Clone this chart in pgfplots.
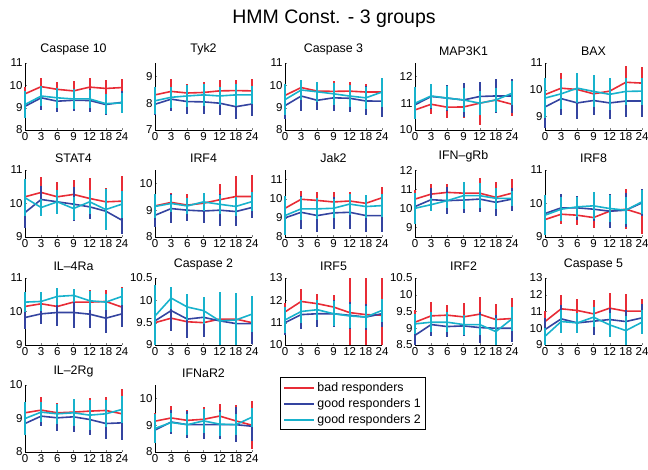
\documentclass[border=0pt]{standalone}
\usepackage{fontspec}
\setmainfont{Liberation Sans}
\usepackage{pgfplots}
\pgfplotsset{compat=1.18}
\definecolor{cR}{RGB}{232,44,54}
\definecolor{cB}{RGB}{52,68,160}
\definecolor{cC}{RGB}{24,178,204}
\pgfplotsset{
  sub/.style={width=97pt,height=67pt,scale only axis,
    xmin=0,xmax=6,
    axis x line*=bottom, axis y line*=left,
    xtick={0,...,6}, xticklabels={0,3,6,9,12,18,24},
    tick align=inside, major tick length=2pt,
    clip=false,
    axis line style={line width=0.8pt},
    ticklabel style={font=\fontsize{11.5}{12}\selectfont},
    title style={font=\fontsize{12.4}{13}\selectfont, yshift=-2pt},
    /pgf/number format/assume math mode=true,
    xticklabel style={yshift=1pt},
    yticklabel style={xshift=1pt},
  },
  eb/.style={line width=1.6pt, mark=none, error bars/y dir=both, error bars/y explicit, error bars/error mark=none, error bars/error bar style={line width=2pt}},
  R/.style={cR, eb},
  B/.style={cB, eb},
  C/.style={cC, eb},
  leg/.style={legend image code/.code={\draw[##1] (0pt,0pt) -- (30pt,0pt);}},
}
\begin{document}
\begin{tikzpicture}
\useasboundingbox (0,0) rectangle (648pt,470pt);
\node at (334pt,451pt) {\fontsize{19.5}{22}\selectfont HMM Const. - 3 groups};

% Row 1
\begin{axis}[sub, at={(25pt,340pt)}, title={Caspase 10}, ymin=8, ymax=11, ytick={8,9,10,11}]
\addplot[R] coordinates {(0,9.62)+-(0,.3) (1,9.94)+-(0,.4) (2,9.82)+-(0,.35) (3,9.75)+-(0,.45) (4,9.92)+-(0,.4) (5,9.86)+-(0,.38) (6,9.9)+-(0,.4)};
\addplot[B] coordinates {(0,9.06)+-(0,.5) (1,9.44)+-(0,.55) (2,9.29)+-(0,.5) (3,9.33)+-(0,.5) (4,9.32)+-(0,.5) (5,9.14)+-(0,.45) (6,9.24)+-(0,.5)};
\addplot[C] coordinates {(0,9.14)+-(0,.6) (1,9.52)+-(0,.45) (2,9.44)+-(0,.45) (3,9.39)+-(0,.45) (4,9.39)+-(0,.4) (5,9.18)+-(0,.45) (6,9.21)+-(0,.45)};
\end{axis}
\begin{axis}[sub, at={(155pt,340pt)}, title={Tyk2}, ymin=7, ymax=9.5, ytick={7,8,9}]
\addplot[R] coordinates {(0,8.31)+-(0,.3) (1,8.44)+-(0,.45) (2,8.38)+-(0,.35) (3,8.40)+-(0,.4) (4,8.46)+-(0,.4) (5,8.47)+-(0,.4) (6,8.46)+-(0,.45)};
\addplot[B] coordinates {(0,7.96)+-(0,.4) (1,8.15)+-(0,.45) (2,8.06)+-(0,.45) (3,8.05)+-(0,.45) (4,8.00)+-(0,.45) (5,7.87)+-(0,.45) (6,7.97)+-(0,.45)};
\addplot[C] coordinates {(0,8.09)+-(0,.5) (1,8.22)+-(0,.4) (2,8.27)+-(0,.4) (3,8.31)+-(0,.4) (4,8.27)+-(0,.35) (5,8.31)+-(0,.4) (6,8.31)+-(0,.35)};
\end{axis}
\begin{axis}[sub, at={(285pt,340pt)}, title={Caspase 3}, ymin=8, ymax=11, ytick={8,9,10,11}]
\addplot[R] coordinates {(0,9.55)+-(0,.3) (1,9.90)+-(0,.35) (2,9.74)+-(0,.35) (3,9.73)+-(0,.45) (4,9.74)+-(0,.4) (5,9.70)+-(0,.35) (6,9.70)+-(0,.35)};
\addplot[B] coordinates {(0,9.09)+-(0,.6) (1,9.52)+-(0,.65) (2,9.33)+-(0,.45) (3,9.44)+-(0,.6) (4,9.42)+-(0,.6) (5,9.30)+-(0,.65) (6,9.29)+-(0,.7)};
\addplot[C] coordinates {(0,9.36)+-(0,.7) (1,9.79)+-(0,.45) (2,9.71)+-(0,.45) (3,9.62)+-(0,.5) (4,9.52)+-(0,.5) (5,9.44)+-(0,.5) (6,9.70)+-(0,.65)};
\end{axis}
\begin{axis}[sub, at={(415pt,340pt)}, title={MAP3K1}, ymin=10, ymax=12.5, ytick={10,11,12}]
\addplot[R] coordinates {(0,10.75)+-(0,.35) (1,10.96)+-(0,.35) (2,10.85)+-(0,.4) (3,10.86)+-(0,.4) (4,11.00)+-(0,.8) (5,11.12)+-(0,.45) (6,10.96)+-(0,.45)};
\addplot[B] coordinates {(0,10.94)+-(0,.5) (1,11.25)+-(0,.45) (2,11.19)+-(0,.5) (3,11.12)+-(0,.65) (4,11.25)+-(0,.55) (5,11.27)+-(0,.65) (6,11.27)+-(0,.65)};
\addplot[C] coordinates {(0,11.00)+-(0,.6) (1,11.27)+-(0,.45) (2,11.19)+-(0,.45) (3,11.12)+-(0,.45) (4,11.00)+-(0,.45) (5,11.12)+-(0,.45) (6,11.37)+-(0,.45)};
\end{axis}
\begin{axis}[sub, at={(545pt,340pt)}, title={BAX}, ymin=8.5, ymax=11, ytick={9,10,11}]
\addplot[R] coordinates {(0,9.82)+-(0,.4) (1,10.06)+-(0,.55) (2,10.01)+-(0,.5) (3,9.85)+-(0,.5) (4,9.95)+-(0,.5) (5,10.28)+-(0,.6) (6,10.25)+-(0,.6)};
\addplot[B] coordinates {(0,9.36)+-(0,.8) (1,9.67)+-(0,.6) (2,9.51)+-(0,.6) (3,9.60)+-(0,.55) (4,9.51)+-(0,.6) (5,9.58)+-(0,.6) (6,9.58)+-(0,.6)};
\addplot[C] coordinates {(0,9.69)+-(0,.75) (1,9.85)+-(0,.55) (2,10.06)+-(0,.55) (3,9.94)+-(0,.6) (4,9.83)+-(0,.6) (5,9.94)+-(0,.5) (6,9.95)+-(0,.5)};
\end{axis}

% Row 2
\begin{axis}[sub, at={(25pt,233pt)}, title={STAT4}, ymin=9, ymax=11, ytick={9,10,11}]
\addplot[R] coordinates {(0,10.20)+-(0,.4) (1,10.33)+-(0,.45) (2,10.20)+-(0,.45) (3,10.27)+-(0,.42) (4,10.15)+-(0,.6) (5,10.05)+-(0,.4) (6,10.07)+-(0,.75)};
\addplot[B] coordinates {(0,9.73)+-(0,.45) (1,10.12)+-(0,.4) (2,10.05)+-(0,.35) (3,9.98)+-(0,.5) (4,9.90)+-(0,.35) (5,9.77)+-(0,.4) (6,9.50)+-(0,.4)};
\addplot[C] coordinates {(0,10.17)+-(0,.55) (1,9.88)+-(0,.25) (2,10.05)+-(0,.35) (3,9.85)+-(0,.35) (4,10.05)+-(0,.35) (5,9.82)+-(0,.6) (6,9.98)+-(0,.4)};
\end{axis}
\begin{axis}[sub, at={(155pt,233pt)}, title={IRF4}, ymin=8, ymax=10.5, ytick={8,9,10}]
\addplot[R] coordinates {(0,9.16)+-(0,.3) (1,9.29)+-(0,.35) (2,9.19)+-(0,.4) (3,9.26)+-(0,.3) (4,9.39)+-(0,.6) (5,9.51)+-(0,.75) (6,9.51)+-(0,.8)};
\addplot[B] coordinates {(0,8.81)+-(0,.45) (1,9.06)+-(0,.55) (2,9.00)+-(0,.4) (3,8.97)+-(0,.45) (4,9.00)+-(0,.6) (5,8.95)+-(0,.55) (6,9.10)+-(0,.4)};
\addplot[C] coordinates {(0,9.14)+-(0,.45) (1,9.25)+-(0,.3) (2,9.16)+-(0,.3) (3,9.31)+-(0,.35) (4,9.22)+-(0,.35) (5,9.14)+-(0,.35) (6,9.32)+-(0,.35)};
\end{axis}
\begin{axis}[sub, at={(285pt,233pt)}, title={Jak2}, ymin=8, ymax=11.5, ytick={8,9,10,11}]
\addplot[R] coordinates {(0,9.50)+-(0,.4) (1,9.97)+-(0,.45) (2,9.91)+-(0,.45) (3,9.83)+-(0,.5) (4,9.88)+-(0,.45) (5,9.76)+-(0,.45) (6,10.05)+-(0,.55)};
\addplot[B] coordinates {(0,9.00)+-(0,.8) (1,9.29)+-(0,.85) (2,9.12)+-(0,.85) (3,9.26)+-(0,.85) (4,9.29)+-(0,.85) (5,9.12)+-(0,.85) (6,9.12)+-(0,.85)};
\addplot[C] coordinates {(0,9.12)+-(0,1.0) (1,9.47)+-(0,.6) (2,9.47)+-(0,.55) (3,9.50)+-(0,.5) (4,9.72)+-(0,.55) (5,9.59)+-(0,.6) (6,9.64)+-(0,.6)};
\end{axis}
\begin{axis}[sub, at={(415pt,233pt)}, title={IFN\textendash gRb}, ymin=8.5, ymax=12, ytick={9,10,11,12}]
\addplot[R] coordinates {(0,10.48)+-(0,.45) (1,10.74)+-(0,.55) (2,10.83)+-(0,.45) (3,10.79)+-(0,.6) (4,10.79)+-(0,.8) (5,10.57)+-(0,.8) (6,10.79)+-(0,.75)};
\addplot[B] coordinates {(0,10.09)+-(0,.6) (1,10.45)+-(0,.6) (2,10.40)+-(0,.7) (3,10.43)+-(0,.7) (4,10.48)+-(0,.7) (5,10.31)+-(0,.7) (6,10.48)+-(0,.6)};
\addplot[C] coordinates {(0,10.00)+-(0,.8) (1,10.19)+-(0,.35) (2,10.40)+-(0,.4) (3,10.66)+-(0,.7) (4,10.66)+-(0,.65) (5,10.52)+-(0,.55) (6,10.52)+-(0,.4)};
\end{axis}
\begin{axis}[sub, at={(545pt,233pt)}, title={IRF8}, ymin=9, ymax=11, ytick={9,10,11}]
\addplot[R] coordinates {(0,9.52)+-(0,.2) (1,9.68)+-(0,.3) (2,9.65)+-(0,.3) (3,9.58)+-(0,.3) (4,9.77)+-(0,.3) (5,9.83)+-(0,.6) (6,9.68)+-(0,.6)};
\addplot[B] coordinates {(0,9.70)+-(0,.4) (1,9.87)+-(0,.4) (2,9.87)+-(0,.35) (3,9.83)+-(0,.35) (4,9.77)+-(0,.5) (5,9.80)+-(0,.5) (6,10.02)+-(0,.4)};
\addplot[C] coordinates {(0,9.65)+-(0,.6) (1,9.83)+-(0,.35) (2,9.90)+-(0,.3) (3,9.93)+-(0,.4) (4,9.85)+-(0,.4) (5,9.80)+-(0,.4) (6,10.05)+-(0,.35)};
\end{axis}

% Row 3
\begin{axis}[sub, at={(25pt,125pt)}, title={IL\textendash 4Ra}, ymin=9, ymax=11, ytick={9,10,11}]
\addplot[R] coordinates {(0,10.15)+-(0,.3) (1,10.23)+-(0,.35) (2,10.15)+-(0,.35) (3,10.28)+-(0,.35) (4,10.28)+-(0,.35) (5,10.30)+-(0,.35) (6,10.13)+-(0,.6)};
\addplot[B] coordinates {(0,9.82)+-(0,.35) (1,9.93)+-(0,.3) (2,9.97)+-(0,.4) (3,9.97)+-(0,.45) (4,9.92)+-(0,.4) (5,9.80)+-(0,.45) (6,9.93)+-(0,.4)};
\addplot[C] coordinates {(0,10.28)+-(0,.3) (1,10.30)+-(0,.28) (2,10.45)+-(0,.25) (3,10.48)+-(0,.2) (4,10.32)+-(0,.28) (5,10.28)+-(0,.25) (6,10.45)+-(0,.25)};
\end{axis}
\begin{axis}[sub, at={(155pt,125pt)}, title={Caspase 2}, ymin=9, ymax=10.5, ytick={9,9.5,10,10.5}]
\addplot[R] coordinates {(0,9.50)+-(0,.2) (1,9.60)+-(0,.25) (2,9.52)+-(0,.2) (3,9.50)+-(0,.2) (4,9.58)+-(0,.35) (5,9.58)+-(0,.2) (6,9.50)+-(0,.45)};
\addplot[B] coordinates {(0,9.54)+-(0,.4) (1,9.77)+-(0,.45) (2,9.58)+-(0,.42) (3,9.62)+-(0,.45) (4,9.54)+=(0,.6)-=(0,.54) (5,9.48)+-(0,.45) (6,9.48)+-(0,.45)};
\addplot[C] coordinates {(0,9.65)+=(0,.7)-=(0,.65) (1,10.05)+-(0,.25) (2,9.85)+-(0,.3) (3,9.77)+-(0,.3) (4,9.54)+=(0,.65)-=(0,.54) (5,9.56)+=(0,.6)-=(0,.56) (6,9.69)+-(0,.4)};
\end{axis}
\begin{axis}[sub, at={(285pt,125pt)}, title={IRF5}, ymin=10, ymax=13, ytick={10,11,12,13}]
\addplot[R] coordinates {(0,11.48)+-(0,.4) (1,11.95)+-(0,.55) (2,11.85)+-(0,.45) (3,11.70)+-(0,.55) (4,11.45)+=(0,1.55)-=(0,1.45) (5,11.36)+=(0,1.64)-=(0,1.36) (6,11.33)+=(0,1.67)-=(0,1.33)};
\addplot[B] coordinates {(0,11.00)+-(0,.55) (1,11.36)+-(0,.65) (2,11.40)+-(0,.6) (3,11.40)+-(0,.6) (4,11.33)+-(0,.6) (5,11.25)+-(0,.6) (6,11.40)+-(0,.6)};
\addplot[C] coordinates {(0,11.12)+-(0,.6) (1,11.50)+-(0,.5) (2,11.58)+-(0,.45) (3,11.40)+-(0,.55) (4,11.30)+-(0,.55) (5,11.25)+-(0,.5) (6,11.55)+-(0,.5)};
\end{axis}
\begin{axis}[sub, at={(415pt,125pt)}, title={IRF2}, ymin=8.5, ymax=10.5, ytick={8.5,9,9.5,10,10.5}]
\addplot[R] coordinates {(0,9.18)+-(0,.35) (1,9.37)+-(0,.42) (2,9.39)+-(0,.3) (3,9.34)+-(0,.4) (4,9.42)+-(0,.5) (5,9.26)+-(0,.45) (6,9.29)+-(0,.6)};
\addplot[B] coordinates {(0,8.79)+=(0,.35)-=(0,.29) (1,9.11)+-(0,.35) (2,9.05)+-(0,.3) (3,9.07)+-(0,.3) (4,9.02)+-(0,.45) (5,9.00)+-(0,.4) (6,9.00)+-(0,.4)};
\addplot[C] coordinates {(0,9.13)+-(0,.3) (1,9.18)+-(0,.3) (2,9.18)+-(0,.3) (3,9.11)+-(0,.3) (4,9.11)+-(0,.3) (5,8.90)+-(0,.4) (6,9.28)+-(0,.35)};
\end{axis}
\begin{axis}[sub, at={(545pt,125pt)}, title={Caspase 5}, ymin=9, ymax=13, ytick={9,10,11,12,13}]
\addplot[R] coordinates {(0,10.40)+-(0,.6) (1,11.16)+-(0,.8) (2,11.06)+-(0,.7) (3,10.86)+-(0,.8) (4,11.20)+-(0,.9) (5,11.02)+-(0,1.0) (6,11.02)+-(0,.75)};
\addplot[B] coordinates {(0,9.92)+-(0,.7) (1,10.56)+-(0,.8) (2,10.32)+-(0,.6) (3,10.42)+-(0,.8) (4,10.52)+-(0,.7) (5,10.40)+-(0,.7) (6,10.62)+-(0,.8)};
\addplot[C] coordinates {(0,9.52)+-(0,.5) (1,10.40)+-(0,.7) (2,10.32)+-(0,.6) (3,10.66)+-(0,.6) (4,10.20)+-(0,.7) (5,9.86)+=(0,.9)-=(0,.86) (6,10.36)+-(0,.7)};
\end{axis}

% Row 4
\begin{axis}[sub, at={(25pt,18pt)}, title={IL\textendash 2Rg}, ymin=8, ymax=10, ytick={8,9,10}]
\addplot[R] coordinates {(0,9.17)+-(0,.3) (1,9.25)+-(0,.4) (2,9.17)+-(0,.3) (3,9.19)+-(0,.4) (4,9.22)+-(0,.4) (5,9.24)+-(0,.4) (6,9.14)+-(0,.75)};
\addplot[B] coordinates {(0,8.85)+-(0,.35) (1,9.07)+-(0,.3) (2,9.02)+-(0,.4) (3,9.05)+-(0,.45) (4,8.97)+-(0,.45) (5,8.85)+-(0,.45) (6,8.87)+-(0,.5)};
\addplot[C] coordinates {(0,9.00)+-(0,.5) (1,9.19)+-(0,.3) (2,9.14)+-(0,.3) (3,9.17)+-(0,.4) (4,9.10)+-(0,.45) (5,9.14)+-(0,.4) (6,9.27)+-(0,.4)};
\end{axis}
\begin{axis}[sub, at={(155pt,18pt)}, title={IFNaR2}, ymin=8, ymax=10.5, ytick={8,9,10},
  legend style={at={(1.289,1.12)}, anchor=north west, draw=black, line width=0.9pt, fill=white,
    font=\fontsize{12.4}{13}\selectfont, cells={anchor=west}, inner xsep=3pt, inner ysep=3pt,
    row sep=1.5pt}]
\addlegendimage{cR, line width=2pt, leg}
\addlegendentry{bad responders}
\addlegendimage{cB, line width=2pt, leg}
\addlegendentry{good responders 1}
\addlegendimage{cC, line width=2pt, leg}
\addlegendentry{good responders 2}
\addplot[forget plot, R] coordinates {(0,9.15)+-(0,.3) (1,9.27)+-(0,.45) (2,9.18)+-(0,.4) (3,9.22)+-(0,.45) (4,9.34)+-(0,.45) (5,9.16)+-(0,.6) (6,9.00)+-(0,.9)};
\addplot[forget plot, B] coordinates {(0,8.82)+-(0,.4) (1,9.12)+-(0,.45) (2,9.02)+-(0,.5) (3,9.02)+-(0,.55) (4,9.02)+-(0,.55) (5,9.02)+-(0,.65) (6,8.96)+-(0,.55)};
\addplot[forget plot, C] coordinates {(0,8.88)+-(0,.55) (1,9.10)+-(0,.35) (2,9.02)+-(0,.4) (3,9.16)+-(0,.45) (4,9.04)+-(0,.45) (5,9.02)+-(0,.4) (6,9.30)+-(0,.35)};
\end{axis}
\end{tikzpicture}
\end{document}
